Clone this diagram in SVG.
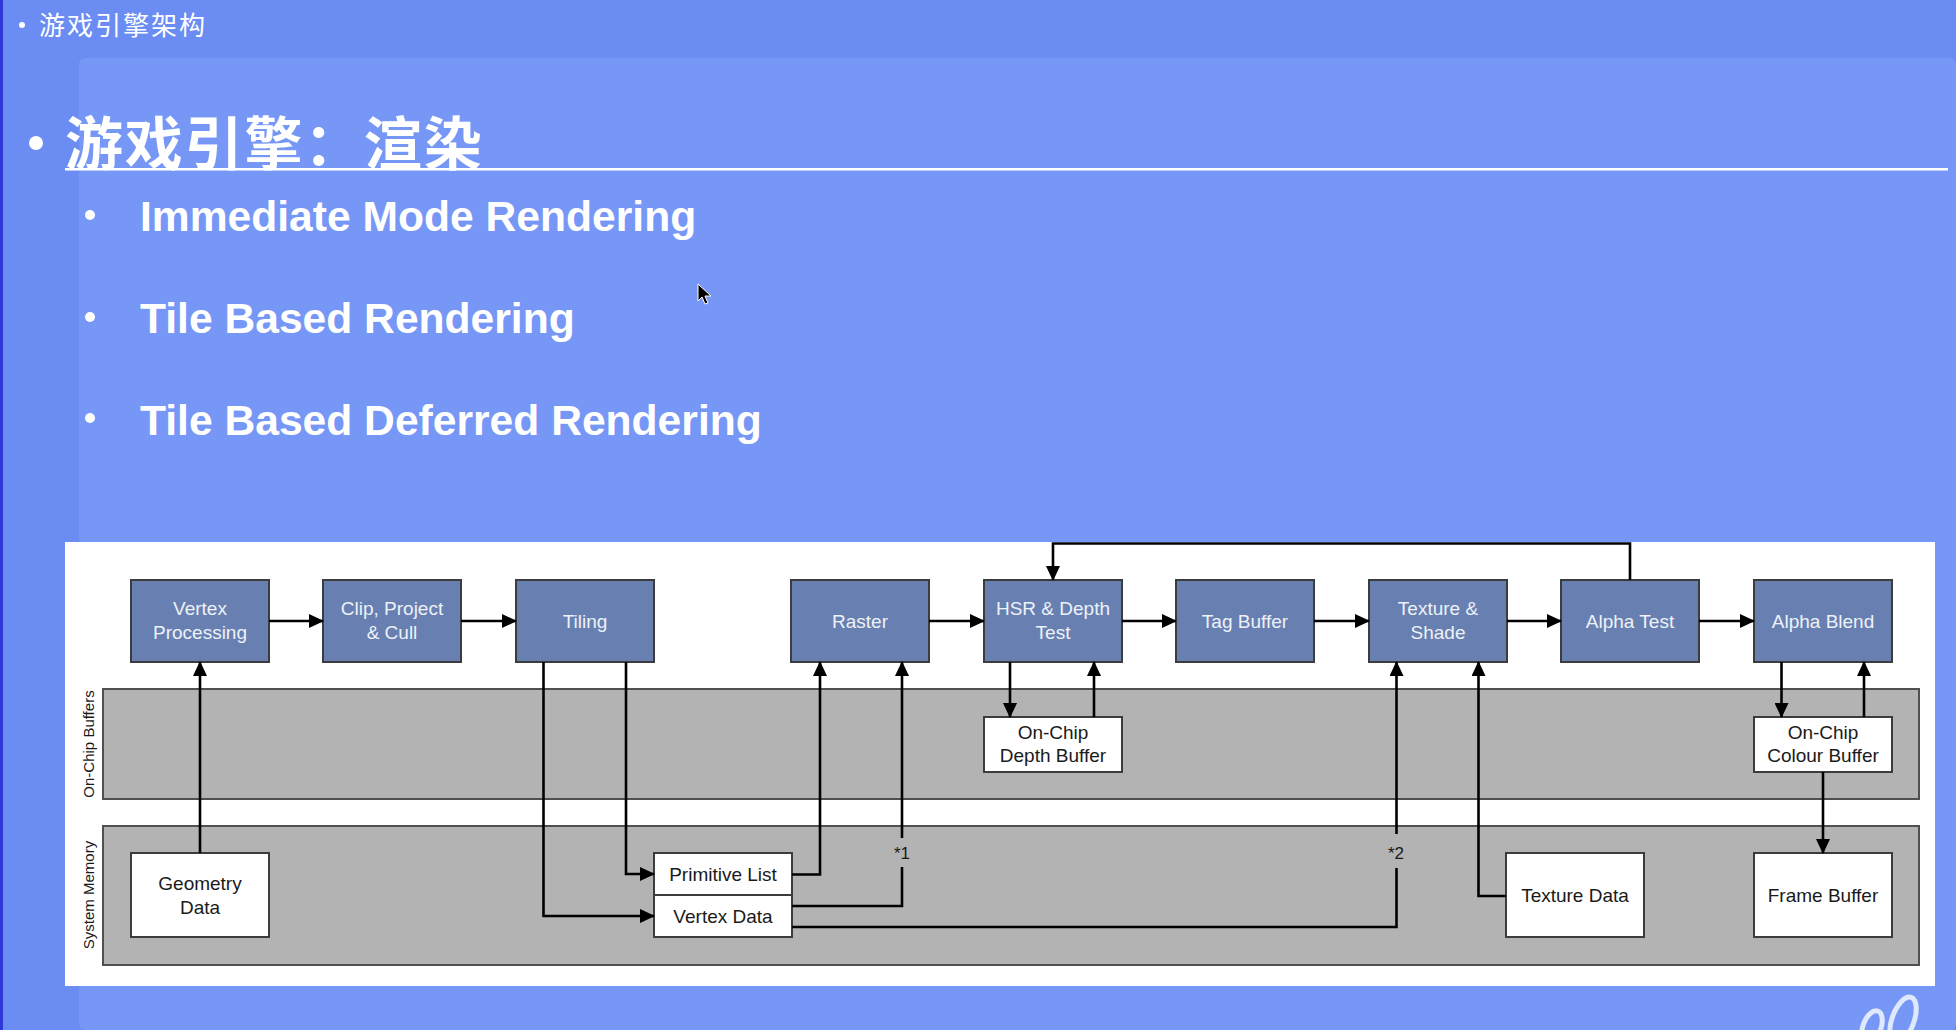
<svg xmlns="http://www.w3.org/2000/svg" width="1956" height="1030" viewBox="0 0 1956 1030">
<defs>
<style>
.bg-outer{fill:#6a8cf3}
.bg-inner{fill:#7797f6}
.cjk{font-family:"Noto Sans CJK SC","Noto Sans",sans-serif;fill:#ffffff}
.sub{font-family:"Liberation Sans",Arial,sans-serif;font-weight:bold;font-size:42.6px;fill:#ffffff}
.band{fill:#b3b3b3;stroke:#505050;stroke-width:2}
.pbox{fill:#6780b1;stroke:#3c3c3c;stroke-width:2}
.wbox{fill:#ffffff;stroke:#3c3c3c;stroke-width:2}
.pt{font-family:"Liberation Sans",Arial,sans-serif;font-size:19px;fill:#eef1f7;text-anchor:middle}
.wt{font-family:"Liberation Sans",Arial,sans-serif;font-size:19px;fill:#1a1a1a;text-anchor:middle}
.lbl{font-family:"Liberation Sans",Arial,sans-serif;font-size:17px;fill:#1a1a1a;text-anchor:middle}
.side{font-family:"Liberation Sans",Arial,sans-serif;font-size:15px;fill:#1a1a1a;text-anchor:middle}
.conn{fill:none;stroke:#000;stroke-width:2.6}
.arr{marker-end:url(#ah)}
</style>
<marker id="ah" markerUnits="userSpaceOnUse" markerWidth="15" markerHeight="14" refX="14" refY="7" orient="auto">
<path d="M0,0 L15,7 L0,14 z" fill="#000"/>
</marker>
</defs>

<!-- slide background -->
<rect x="0" y="0" width="1956" height="1030" class="bg-outer"/>
<rect x="79" y="58" width="1877" height="972" rx="6" class="bg-inner"/>
<rect x="0" y="0" width="3" height="1030" fill="#2f3ad6"/>

<!-- header texts -->
<g id="header">
<circle cx="22" cy="25" r="3" fill="#ffffff"/>
<text x="39" y="35" class="cjk" font-size="26" letter-spacing="2">游戏引擎架构</text>
<circle cx="36" cy="143" r="7" fill="#ffffff"/>
<text x="65" y="165" class="cjk" font-size="58" font-weight="bold" letter-spacing="1.8">游戏引擎：渲染</text>
<rect x="65" y="168" width="1883" height="2.5" fill="#ffffff"/>
<circle cx="90" cy="215" r="5" fill="#ffffff"/>
<text x="140" y="231" class="sub">Immediate Mode Rendering</text>
<circle cx="90" cy="317" r="5" fill="#ffffff"/>
<text x="140" y="333" class="sub">Tile Based Rendering</text>
<circle cx="90" cy="418" r="5" fill="#ffffff"/>
<text x="140" y="435" class="sub">Tile Based Deferred Rendering</text>
<path d="M698,284 L698,301 L702,297 L705,304 L708,303 L705,296 L711,296 Z" fill="#000" stroke="#fff" stroke-width="1"/>
</g>

<!-- diagram panel -->
<g id="panel">
<rect x="65" y="542" width="1870" height="444" fill="#ffffff"/>
<rect x="103" y="689" width="1816" height="110" class="band"/>
<rect x="103" y="826" width="1816" height="139" class="band"/>
<text transform="translate(94,744) rotate(-90)" class="side">On-Chip Buffers</text>
<text transform="translate(94,895) rotate(-90)" class="side">System Memory</text>
</g>

<!-- pipeline nodes -->
<g id="vertex-processing">
<rect x="131" y="580" width="138" height="82" class="pbox"/>
<text x="200" y="615" class="pt">Vertex</text>
<text x="200" y="639" class="pt">Processing</text>
</g>
<g id="clip-project-cull">
<rect x="323" y="580" width="138" height="82" class="pbox"/>
<text x="392" y="615" class="pt">Clip, Project</text>
<text x="392" y="639" class="pt">&amp; Cull</text>
</g>
<g id="tiling">
<rect x="516" y="580" width="138" height="82" class="pbox"/>
<text x="585" y="628" class="pt">Tiling</text>
</g>
<g id="raster">
<rect x="791" y="580" width="138" height="82" class="pbox"/>
<text x="860" y="628" class="pt">Raster</text>
</g>
<g id="hsr-depth-test">
<rect x="984" y="580" width="138" height="82" class="pbox"/>
<text x="1053" y="615" class="pt">HSR &amp; Depth</text>
<text x="1053" y="639" class="pt">Test</text>
</g>
<g id="tag-buffer">
<rect x="1176" y="580" width="138" height="82" class="pbox"/>
<text x="1245" y="628" class="pt">Tag Buffer</text>
</g>
<g id="texture-shade">
<rect x="1369" y="580" width="138" height="82" class="pbox"/>
<text x="1438" y="615" class="pt">Texture &amp;</text>
<text x="1438" y="639" class="pt">Shade</text>
</g>
<g id="alpha-test">
<rect x="1561" y="580" width="138" height="82" class="pbox"/>
<text x="1630" y="628" class="pt">Alpha Test</text>
</g>
<g id="alpha-blend">
<rect x="1754" y="580" width="138" height="82" class="pbox"/>
<text x="1823" y="628" class="pt">Alpha Blend</text>
</g>

<!-- buffers / memory nodes -->
<g id="depth-buffer">
<rect x="984" y="717" width="138" height="55" class="wbox"/>
<text x="1053" y="739" class="wt">On-Chip</text>
<text x="1053" y="762" class="wt">Depth Buffer</text>
</g>
<g id="colour-buffer">
<rect x="1754" y="717" width="138" height="55" class="wbox"/>
<text x="1823" y="739" class="wt">On-Chip</text>
<text x="1823" y="762" class="wt">Colour Buffer</text>
</g>
<g id="geometry-data">
<rect x="131" y="853" width="138" height="84" class="wbox"/>
<text x="200" y="890" class="wt">Geometry</text>
<text x="200" y="914" class="wt">Data</text>
</g>
<g id="primitive-list">
<rect x="654" y="853" width="138" height="42" class="wbox"/>
<text x="723" y="881" class="wt">Primitive List</text>
</g>
<g id="vertex-data">
<rect x="654" y="895" width="138" height="42" class="wbox"/>
<text x="723" y="923" class="wt">Vertex Data</text>
</g>
<g id="texture-data">
<rect x="1506" y="853" width="138" height="84" class="wbox"/>
<text x="1575" y="902" class="wt">Texture Data</text>
</g>
<g id="frame-buffer">
<rect x="1754" y="853" width="138" height="84" class="wbox"/>
<text x="1823" y="902" class="wt">Frame Buffer</text>
</g>

<!-- connectors -->
<g id="connectors">
<path class="conn arr" d="M269,621 L323,621"/>
<path class="conn arr" d="M461,621 L516,621"/>
<path class="conn arr" d="M929,621 L984,621"/>
<path class="conn arr" d="M1122,621 L1176,621"/>
<path class="conn arr" d="M1314,621 L1369,621"/>
<path class="conn arr" d="M1507,621 L1561,621"/>
<path class="conn arr" d="M1699,621 L1754,621"/>
<path class="conn arr" d="M200,853 L200,662"/>
<path class="conn arr" d="M626,662 L626,874 L654,874"/>
<path class="conn arr" d="M543.5,662 L543.5,916 L654,916"/>
<path class="conn arr" d="M792,874.5 L820,874.5 L820,662"/>
<path class="conn" d="M792,906 L902,906 L902,867"/>
<path class="conn arr" d="M902,838 L902,662"/>
<text x="902" y="859" class="lbl">*1</text>
<path class="conn" d="M792,927 L1396.5,927 L1396.5,868"/>
<path class="conn arr" d="M1396.5,834 L1396.5,662"/>
<text x="1396" y="859" class="lbl">*2</text>
<path class="conn arr" d="M1506,896 L1478.5,896 L1478.5,662"/>
<path class="conn arr" d="M1010,662 L1010,717"/>
<path class="conn arr" d="M1094,717 L1094,662"/>
<path class="conn arr" d="M1630,580 L1630,543.5 L1053,543.5 L1053,580"/>
<path class="conn arr" d="M1781.5,662 L1781.5,717"/>
<path class="conn arr" d="M1864,717 L1864,662"/>
<path class="conn arr" d="M1823,772 L1823,853"/>
</g>

<!-- corner decoration -->
<g id="logo" fill="none" stroke="#eaf2ff" stroke-width="5" opacity="0.9">
<ellipse cx="1903" cy="1020" rx="11" ry="24" transform="rotate(20 1903 1020)"/>
<ellipse cx="1872" cy="1027" rx="9" ry="17" transform="rotate(20 1872 1027)"/>
</g>
</svg>
